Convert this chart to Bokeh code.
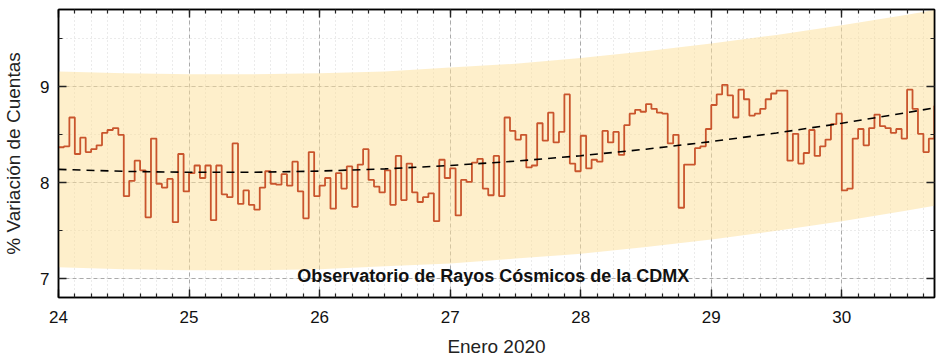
import numpy as np
from bokeh.plotting import figure
from bokeh.models import (Range1d, LinearAxis, SingleIntervalTicker, Label,
                          CustomLabelingPolicy)
from bokeh.embed import file_html
from bokeh.resources import INLINE

# ---- data ----
start_day = 24.0
hourly_values = [
    8.37, 8.38, 8.68, 8.30, 8.47, 8.32, 8.35, 8.39, 8.52, 8.55, 8.57, 8.50,
    7.86, 8.02, 8.23, 8.13, 7.64, 8.46, 7.99, 7.95, 8.04, 7.59, 8.30, 7.91,
    8.10, 8.18, 8.05, 8.18, 7.61, 8.18, 7.88, 7.85, 8.41, 7.78, 7.92, 7.77,
    7.72, 7.95, 8.12, 7.99, 7.98, 8.09, 7.97, 8.22, 7.91, 7.63, 8.32, 7.86,
    7.97, 8.05, 7.73, 8.10, 7.94, 8.17, 7.75, 8.19, 8.35, 8.03, 7.96, 7.90,
    8.13, 7.77, 8.28, 7.82, 8.20, 7.90, 7.80, 7.85, 7.89, 7.60, 8.24, 8.05,
    8.15, 7.66, 8.03, 8.01, 8.21, 8.25, 7.94, 7.87, 8.28, 7.86, 8.68, 8.54,
    8.45, 8.50, 8.16, 8.18, 8.62, 8.44, 8.73, 8.42, 8.53, 8.92, 8.20, 8.12,
    8.49, 8.15, 8.24, 8.22, 8.54, 8.42, 8.53, 8.29, 8.60, 8.72, 8.76, 8.74,
    8.82, 8.77, 8.73, 8.72, 8.41, 8.50, 7.74, 8.19, 8.19, 8.36, 8.38, 8.56,
    8.81, 8.92, 9.02, 8.91, 8.68, 8.97, 8.87, 8.70, 8.72, 8.77, 8.87, 8.93,
    8.96, 8.96, 8.23, 8.51, 8.20, 8.31, 8.55, 8.28, 8.38, 8.45, 8.61, 8.72,
    7.92, 7.94, 8.46, 8.56, 8.39, 8.57, 8.71, 8.59, 8.57, 8.52, 8.56, 8.46,
    8.97, 8.77, 8.51, 8.32, 8.46, 8.80,
]

trend_days = [24.0, 24.5, 25.0, 25.5, 26.0, 26.5, 27.0, 27.5, 28.0, 28.5,
              29.0, 29.5, 30.0, 30.5, 30.71]
trend_values = [8.140, 8.119, 8.109, 8.110, 8.122, 8.145, 8.180, 8.225, 8.282,
                8.350, 8.429, 8.519, 8.620, 8.732, 8.780]
band_upper = [9.16, 9.14, 9.13, 9.13, 9.14, 9.16, 9.20, 9.24, 9.30, 9.37,
              9.45, 9.54, 9.64, 9.75, 9.80]
band_lower = [7.12, 7.10, 7.09, 7.09, 7.10, 7.13, 7.16, 7.21, 7.26, 7.33,
              7.41, 7.50, 7.60, 7.71, 7.76]

x_label = "Enero 2020"
y_label = "% Variación de Cuentas"
note = "Observatorio de Rayos Cósmicos de la CDMX"

# ---- figure ----
FONT = "Liberation Sans"
p = figure(width=939, height=361, output_backend="svg", toolbar_location=None,
           x_range=Range1d(24.0, 30.71), y_range=Range1d(6.805, 9.805),
           min_border_left=54, min_border_right=5, min_border_top=9,
           min_border_bottom=64)
p.outline_line_color = "black"
p.outline_line_width = 1.5

# band
p.varea(x=trend_days, y1=band_lower, y2=band_upper,
        fill_color="#FDDF97", fill_alpha=0.5)

# step line (hourly bins)
n = len(hourly_values)
edges = start_day + np.arange(n + 1) / 24.0
yy = list(hourly_values) + [hourly_values[-1]]
p.step(x=edges, y=yy, mode="after", line_color="#C9552D", line_width=1.8)

# trend
p.line(x=trend_days, y=trend_values, line_color="black", line_width=1.6,
       line_dash="8 6")

p.add_layout(Label(x=27.33, y=7.03, text=note, text_align="center",
                   text_baseline="middle", text_font=FONT,
                   text_font_style="bold", text_font_size="18px",
                   text_color="#111111"))

xt = SingleIntervalTicker(interval=1, num_minor_ticks=8)
yt = SingleIntervalTicker(interval=1, num_minor_ticks=2)

for ax in p.xaxis:
    ax.ticker = xt
    ax.axis_label = x_label
    ax.axis_label_standoff = 10
    ax.major_label_standoff = 13
for ax in p.yaxis:
    ax.ticker = yt
    ax.axis_label = y_label
    ax.axis_label_standoff = 13
    ax.major_label_standoff = 9

no_labels = CustomLabelingPolicy(
    code="for (const i of Array.from(indices)) { indices.unset(i) }\nreturn indices")
top = LinearAxis(ticker=SingleIntervalTicker(interval=1, num_minor_ticks=8),
                 major_label_policy=no_labels)
right = LinearAxis(ticker=SingleIntervalTicker(interval=1, num_minor_ticks=2),
                   major_label_policy=no_labels)
for ax in (top, right):
    ax.major_label_text_font_size = "1px"
    ax.major_label_standoff = 0
p.add_layout(top, "above")
p.add_layout(right, "right")

for ax in list(p.xaxis) + list(p.yaxis) + [top, right]:
    ax.axis_line_color = "black"
    ax.axis_line_width = 1.5
    ax.major_tick_in = 8
    ax.major_tick_out = 0
    ax.minor_tick_in = 4
    ax.minor_tick_out = 0
    ax.major_tick_line_color = "#222222"
    ax.minor_tick_line_color = "#222222"
    ax.major_tick_line_width = 1.4
    ax.minor_tick_line_width = 1.2
for ax in list(p.xaxis) + list(p.yaxis):
    ax.major_label_text_font = FONT
    ax.major_label_text_font_size = "17px"
    ax.major_label_text_color = "#111111"
    ax.axis_label_text_font = FONT
    ax.axis_label_text_font_size = "19px"
    ax.axis_label_text_font_style = "normal"
    ax.axis_label_text_color = "#222222"
top.major_label_text_font_size = "1px"
right.major_label_text_font_size = "1px"

for g in (p.xgrid, p.ygrid):
    g.grid_line_color = "#aaaaaa"
    g.grid_line_dash = "4 3"
    g.grid_line_width = 1
    g.minor_grid_line_color = "#d6d6d6"
    g.minor_grid_line_dash = "1 3"
    g.minor_grid_line_width = 1
p.xgrid.ticker = xt
p.ygrid.ticker = yt

open("out.html", "w").write(file_html(p, INLINE))
